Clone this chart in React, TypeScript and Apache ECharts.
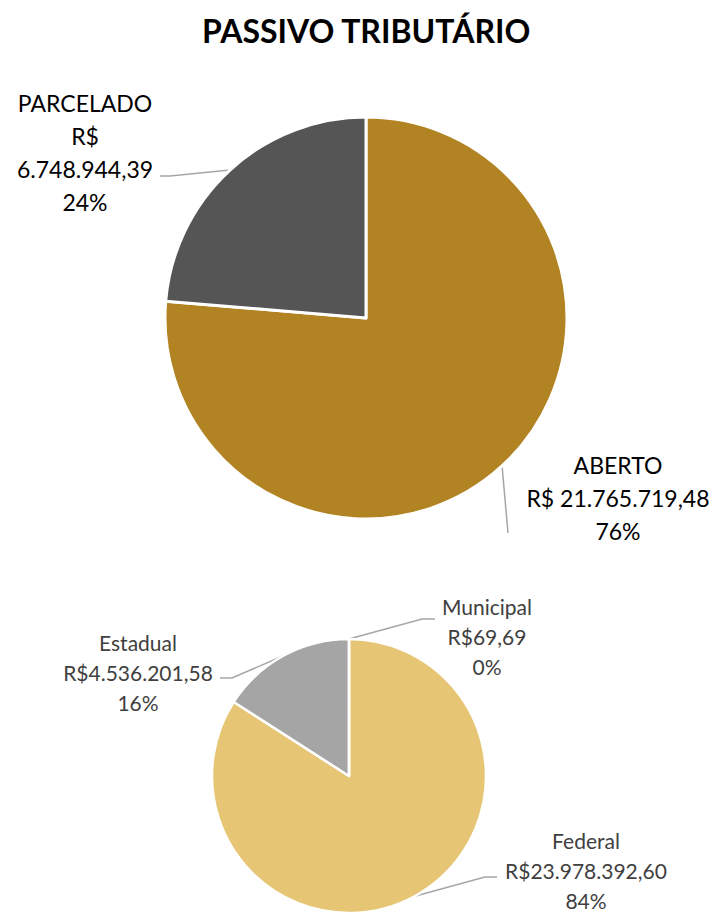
import React, { useEffect, useRef } from "react";
import * as echarts from "echarts";

const title = "PASSIVO TRIBUTÁRIO";
const topNames = ["ABERTO", "PARCELADO"];
const topValues = [21765719.48, 6748944.39];
const bottomNames = ["Federal", "Estadual", "Municipal"];
const bottomValues = [23978392.6, 4536201.58, 69.69];

const topColors = ["#B28322", "#555555"];
const bottomColors = ["#E6C574", "#A5A5A5", "#A5A5A5"];

const FONT = "Lato, 'Open Sans', sans-serif";

function fmt(v: number): string {
  const [i, d] = v.toFixed(2).split(".");
  const withDots = i.replace(/\B(?=(\d{3})+(?!\d))/g, ".");
  return `${withDots},${d}`;
}

// label layout (positions in px)
const topLabelPos = [
  { x: 618, y: 448, line: [[508, 533], [508, 533]] },
  { x: 85, y: 86, line: [[170, 176], [160, 176]] },
];
const bottomLabelPos = [
  { x: 586, y: 825, line: [[485, 877], [497, 877]] },
  { x: 138, y: 627, line: [[232, 678], [220, 678]] },
  { x: 487, y: 591, line: [[422, 619], [435, 619]] },
];

export default function App() {
  const ref = useRef<HTMLDivElement>(null);
  useEffect(() => {
    if (!ref.current) return;
    const chart = echarts.init(ref.current, undefined, { renderer: "svg" });
    const makeLayout = (pos: any[]) => (params: any) => {
      const p = pos[params.dataIndex];
      const start =
        params.labelLinePoints && params.labelLinePoints[0]
          ? params.labelLinePoints[0]
          : p.line[0];
      return {
        x: p.x,
        y: p.y,
        align: "center",
        verticalAlign: "top",
        labelLinePoints: [start, p.line[0], p.line[1]],
      };
    };
    chart.setOption({
      animation: false,
      backgroundColor: "#ffffff",
      title: {
        text: title,
        left: 197,
        top: 9,
        textStyle: {
          fontFamily: FONT,
          fontWeight: "bold",
          fontSize: 32,
          color: "#000000",
        },
      },
      series: [
        {
          type: "pie",
          center: [366, 318],
          radius: 201,
          startAngle: 90,
          clockwise: true,
          avoidLabelOverlap: false,
          itemStyle: { borderColor: "#ffffff", borderWidth: 3 },
          data: topNames.map((n, i) => ({
            name: n,
            value: topValues[i],
            itemStyle: { color: topColors[i] },
          })),
          label: {
            show: true,
            position: "outside",
            fontFamily: FONT,
            fontSize: 23,
            lineHeight: 33,
            color: "#000000",
            align: "center",
            formatter: (p: any) =>
              `${p.name}\nR$${p.name === "PARCELADO" ? "\n" : " "}${fmt(
                p.value
              )}\n${Math.round(p.percent)}%`,
          },
          labelLine: {
            show: true,
            lineStyle: { color: "#A6A6A6", width: 1.5 },
          },
          labelLayout: makeLayout(topLabelPos),
          emphasis: { disabled: true },
        },
        {
          type: "pie",
          center: [349, 776],
          radius: 137,
          startAngle: 90,
          clockwise: true,
          avoidLabelOverlap: false,
          minShowLabelAngle: 0,
          itemStyle: { borderColor: "#ffffff", borderWidth: 2.5 },
          data: bottomNames.map((n, i) => ({
            name: n,
            value: bottomValues[i],
            itemStyle: { color: bottomColors[i] },
          })),
          label: {
            show: true,
            position: "outside",
            fontFamily: FONT,
            fontSize: 21,
            lineHeight: 30,
            color: "#404040",
            align: "center",
            formatter: (p: any) =>
              `${p.name}\nR$${fmt(p.value)}\n${Math.round(p.percent)}%`,
          },
          labelLine: {
            show: true,
            lineStyle: { color: "#A6A6A6", width: 1.5 },
          },
          labelLayout: makeLayout(bottomLabelPos),
          emphasis: { disabled: true },
        },
      ],
    });
    return () => chart.dispose();
  }, []);
  return (
    <div
      ref={ref}
      style={{ position: "fixed", left: 0, top: 0, width: 718, height: 912 }}
    />
  );
}
